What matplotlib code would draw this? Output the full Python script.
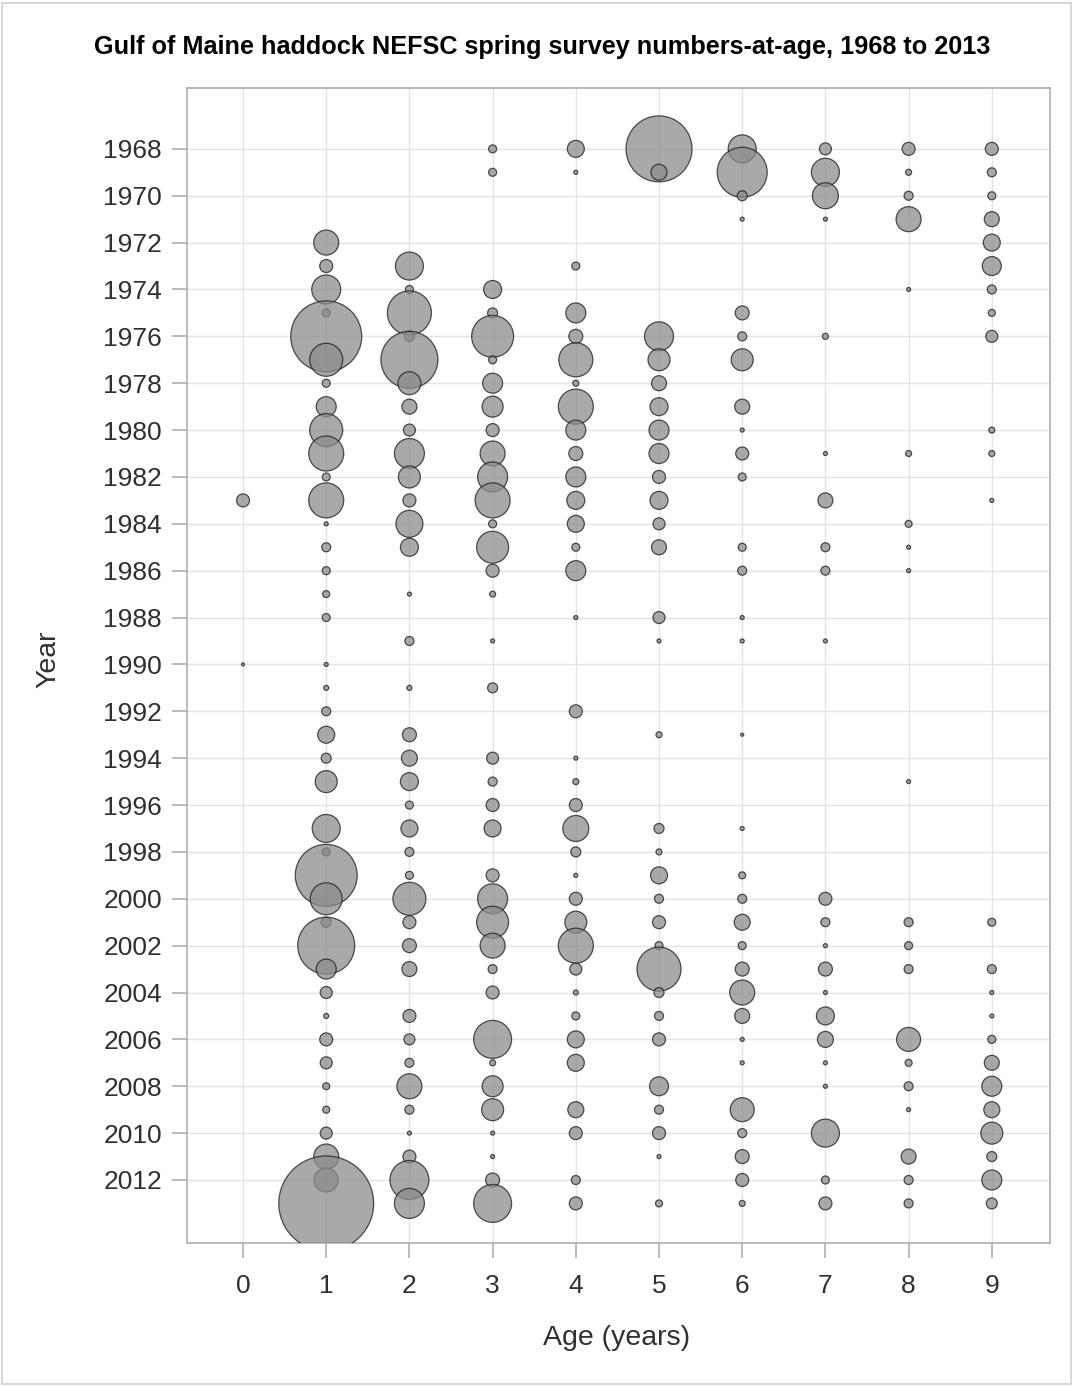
import matplotlib
matplotlib.use("Agg")
import matplotlib.pyplot as plt
import numpy as np

# survey index (numbers per tow) by age, one entry per year 1968..2013
years = np.arange(1968, 2014)

age0 = [0, 0, 0, 0, 0, 0, 0, 0, 0, 0,
        0, 0, 0, 0, 0, 1.69, 0, 0, 0, 0,
        0, 0, 0.09, 0, 0, 0, 0, 0, 0, 0,
        0, 0, 0, 0, 0, 0, 0, 0, 0, 0,
        0, 0, 0, 0, 0, 0]
age1 = [0, 0, 0, 0, 6.25, 1.69, 8.4, 0.64, 50.4, 10.9,
        0.64, 4.0, 10.9, 12.25, 0.64, 12.25, 0.16, 0.81, 0.64, 0.49,
        0.64, 0, 0.16, 0.25, 0.81, 2.89, 1.0, 4.84, 0, 7.84,
        0.64, 38.4, 10.2, 1.0, 32.5, 4.0, 1.44, 0.25, 1.69, 1.44,
        0.49, 0.49, 1.44, 6.25, 5.76, 90.0]
age2 = [0, 0, 0, 0, 0, 7.84, 0.64, 19.4, 1.0, 32.5,
        5.29, 2.25, 1.44, 9.0, 4.84, 1.69, 7.29, 3.24, 0, 0.16,
        0, 0.81, 0, 0.25, 0, 1.96, 2.56, 3.24, 0.64, 2.89,
        0.81, 0.64, 10.9, 1.69, 1.96, 2.25, 0, 1.69, 1.21, 0.81,
        6.25, 0.81, 0.16, 1.69, 15.2, 9.0]
age3 = [0.64, 0.64, 0, 0, 0, 0, 3.24, 1.0, 17.6, 0.64,
        4.0, 4.41, 1.69, 6.25, 9.0, 12.25, 0.64, 10.2, 1.69, 0.36,
        0, 0.16, 0, 1.0, 0, 0, 1.44, 0.81, 1.69, 2.89,
        0, 1.69, 9.0, 10.2, 6.25, 0.81, 1.69, 0, 14.4, 0.36,
        4.41, 4.84, 0.16, 0.16, 1.96, 14.4]
age4 = [2.89, 0.16, 0, 0, 0, 0.64, 0, 4.0, 1.96, 11.6,
        0.36, 12.25, 4.0, 1.96, 4.0, 3.24, 2.89, 0.64, 4.0, 0,
        0.16, 0, 0, 0, 1.69, 0, 0.16, 0.36, 1.69, 6.76,
        1.0, 0.16, 1.69, 4.84, 12.25, 1.44, 0.25, 0.64, 2.89, 2.89,
        0, 2.56, 1.69, 0, 0.81, 1.69]
age5 = [43.6, 2.56, 0, 0, 0, 0, 0, 0, 8.41, 4.84,
        2.25, 3.24, 4.0, 4.0, 1.69, 3.24, 1.44, 2.25, 0, 0,
        1.44, 0.16, 0, 0, 0, 0.36, 0, 0, 0, 1.0,
        0.36, 2.89, 0.81, 1.69, 0.64, 19.4, 1.0, 0.81, 1.69, 0,
        3.61, 0.81, 1.69, 0.16, 0, 0.49]
age6 = [7.84, 25.0, 1.0, 0.16, 0, 0, 0, 1.96, 0.81, 4.84,
        0, 2.25, 0.16, 1.69, 0.64, 0, 0, 0.64, 0.81, 0,
        0.16, 0.16, 0, 0, 0, 0.09, 0, 0, 0, 0.16,
        0, 0.49, 0.81, 2.56, 0.64, 1.96, 6.25, 2.25, 0.16, 0.16,
        0, 5.76, 0.81, 1.96, 1.69, 0.36]
age7 = [1.44, 7.84, 6.76, 0.16, 0, 0, 0, 0, 0.36, 0,
        0, 0, 0, 0.16, 0, 2.25, 0, 0.81, 0.81, 0,
        0, 0.16, 0, 0, 0, 0, 0, 0, 0, 0,
        0, 0, 1.69, 0.81, 0.16, 1.96, 0.16, 3.24, 2.56, 0.16,
        0.16, 0, 7.84, 0, 0.64, 1.69]
age8 = [1.69, 0.36, 0.81, 6.25, 0, 0, 0.16, 0, 0, 0,
        0, 0, 0, 0.36, 0, 0, 0.49, 0.16, 0.16, 0,
        0, 0, 0, 0, 0, 0, 0, 0.16, 0, 0,
        0, 0, 0, 0.81, 0.64, 0.81, 0, 0, 5.76, 0.49,
        0.81, 0.16, 0, 2.25, 0.81, 0.81]
age9 = [1.69, 0.81, 0.64, 2.25, 2.89, 3.61, 0.81, 0.49, 1.44, 0,
        0, 0, 0.36, 0.36, 0, 0.16, 0, 0, 0, 0,
        0, 0, 0, 0, 0, 0, 0, 0, 0, 0,
        0, 0, 0, 0.64, 0, 0.81, 0.16, 0.16, 0.64, 2.25,
        4.0, 2.56, 4.84, 1.0, 4.0, 1.21]

ages = [age0, age1, age2, age3, age4, age5, age6, age7, age8, age9]

plt.rcParams["font.family"] = ["Liberation Sans", "DejaVu Sans"]

fig = plt.figure(figsize=(10.73, 13.87), dpi=100)
ax = fig.add_axes([0.1743, 0.1038, 0.8043, 0.8328])

size_scale = 51.8  # points^2 per unit
for age, vals in enumerate(ages):
    vals = np.asarray(vals, dtype=float)
    keep = vals > 0
    ax.scatter(np.full(keep.sum(), age), years[keep], s=vals[keep] * size_scale,
               facecolor="#8c8c8c", alpha=0.75, edgecolor="#1a1a1a",
               linewidth=0.9, zorder=3)

ax.set_xlim(-0.673, 9.70)
ax.set_ylim(2014.69, 1965.40)
ax.set_xticks(range(10))
ax.set_yticks(range(1968, 2013, 2))
ax.grid(True, color="#e4e4e4", linewidth=1.0, zorder=0)
ax.set_axisbelow(True)
for sp in ax.spines.values():
    sp.set_color("#a8b0b8")
    sp.set_linewidth(1.2)
ax.tick_params(axis="both", length=11, width=1.2, color="#a8b0b8",
               labelsize=19, labelcolor="#303030")
ax.tick_params(axis="x", pad=11.5)
ax.tick_params(axis="y", pad=7)

ax.set_xlabel("Age (years)", fontsize=20.5, color="#303030")
ax.set_ylabel("Year", fontsize=20.5, color="#303030")
ax.xaxis.set_label_coords(0.498, -0.071)
ax.yaxis.set_label_coords(-0.145, 0.505)

fig.text(0.505, 1 - 47 / 1387,
         "Gulf of Maine haddock NEFSC spring survey numbers-at-age, 1968 to 2013",
         ha="center", va="center", fontsize=18.2, fontweight="bold")

# thin frame round the whole picture
fig.add_artist(plt.Rectangle((0.002, 0.002), 0.996, 0.996, transform=fig.transFigure,
                             fill=False, edgecolor="#d0d0d0", linewidth=1.2))

fig.savefig("out.png", dpi=100)
